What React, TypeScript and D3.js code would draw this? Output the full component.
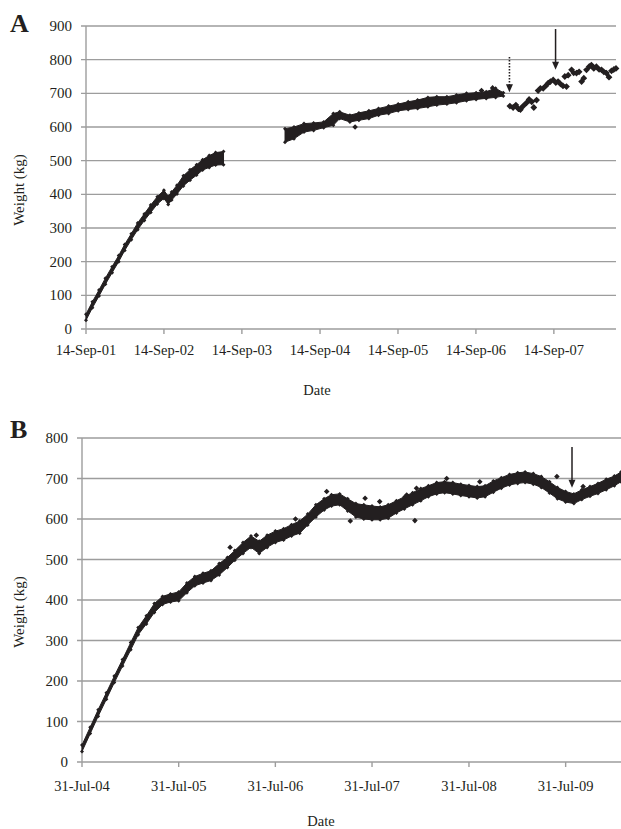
import React from "react";
import * as d3 from "d3";

// ---------- Panel A data ----------
// [date, low, high] envelope of the dense daily weights
const aGrowth: [string, number, number][] = [
  ["2001-09-14", 26, 44], ["2001-10-14", 63, 81], ["2001-11-14", 98, 116],
  ["2001-12-14", 133, 151], ["2002-01-14", 167, 185], ["2002-02-14", 200, 218],
  ["2002-03-14", 233, 251], ["2002-04-14", 265, 283], ["2002-05-14", 295, 315],
  ["2002-06-14", 322, 342], ["2002-07-14", 346, 368], ["2002-08-14", 371, 393],
  ["2002-09-14", 388, 412], ["2002-10-04", 370, 394], ["2002-10-20", 383, 407],
  ["2002-11-14", 401, 427], ["2002-12-14", 425, 455], ["2003-01-14", 442, 473],
  ["2003-02-14", 457, 488], ["2003-03-14", 472, 503], ["2003-04-14", 480, 515],
  ["2003-05-14", 487, 524], ["2003-06-20", 488, 527],
];
const aAdult: [string, number, number][] = [
  ["2004-04-03", 555, 595], ["2004-05-15", 565, 600], ["2004-07-01", 585, 610],
  ["2004-08-15", 590, 612], ["2004-10-01", 598, 615], ["2004-11-15", 605, 640],
  ["2004-12-15", 625, 645], ["2005-02-01", 615, 635], ["2005-03-15", 620, 642],
  ["2005-05-01", 625, 648], ["2005-06-15", 635, 655], ["2005-08-01", 640, 662],
  ["2005-09-15", 648, 668], ["2005-11-01", 652, 675], ["2005-12-15", 655, 680],
  ["2006-02-01", 660, 688], ["2006-03-15", 665, 690], ["2006-05-01", 668, 690],
  ["2006-06-15", 672, 695], ["2006-08-01", 678, 700], ["2006-09-15", 682, 702],
  ["2006-11-01", 685, 705], ["2006-12-15", 688, 715], ["2007-01-20", 692, 702],
];
// sparse weighings after the dotted arrow: [date, weight]
const aSparse: [string, number][] = [
  ["2007-02-20", 662], ["2007-03-07", 658], ["2007-03-20", 665], ["2007-03-31", 655],
  ["2007-04-11", 652], ["2007-04-23", 662], ["2007-05-09", 672], ["2007-05-21", 682],
  ["2007-06-02", 675], ["2007-06-12", 658], ["2007-06-25", 680], ["2007-07-02", 708],
  ["2007-07-13", 715], ["2007-07-26", 715], ["2007-08-07", 722], ["2007-08-18", 730],
  ["2007-08-29", 735], ["2007-09-11", 740], ["2007-09-23", 732], ["2007-10-04", 735],
  ["2007-10-15", 728], ["2007-10-27", 722], ["2007-11-12", 720], ["2007-11-04", 750],
  ["2007-11-20", 754], ["2007-12-06", 770], ["2007-12-16", 761], ["2007-12-29", 760],
  ["2008-01-10", 764], ["2008-01-22", 735], ["2008-02-01", 745], ["2008-02-14", 770],
  ["2008-02-26", 779], ["2008-03-08", 784], ["2008-03-19", 774], ["2008-03-31", 779],
  ["2008-04-13", 771], ["2008-04-24", 770], ["2008-05-05", 764], ["2008-05-17", 760],
  ["2008-05-29", 748], ["2008-06-10", 767], ["2008-06-21", 771], ["2008-07-01", 774],
];
const aOutliers: [string, number][] = [["2005-02-25", 600], ["2006-12-01", 716], ["2006-10-10", 708]];
const aTicks = ["2001-09-14", "2002-09-14", "2003-09-14", "2004-09-14", "2005-09-14", "2006-09-14", "2007-09-14"];
const aYTicks = [0, 100, 200, 300, 400, 500, 600, 700, 800, 900];
// arrows: [date, fromWeight, toWeight, dotted]
const aArrows: [string, number, number, boolean][] = [
  ["2007-02-18", 808, 703, true],
  ["2007-09-22", 891, 770, false],
];

// ---------- Panel B data ----------
const bBand: [string, number, number][] = [
  ["2004-07-31", 26, 42], ["2004-08-31", 70, 86], ["2004-09-30", 113, 129],
  ["2004-10-31", 155, 171], ["2004-11-30", 196, 212], ["2004-12-31", 237, 253],
  ["2005-01-31", 277, 295], ["2005-02-28", 314, 332], ["2005-03-31", 341, 361],
  ["2005-04-30", 369, 391], ["2005-05-31", 389, 409], ["2005-06-30", 395, 415],
  ["2005-07-31", 398, 420], ["2005-08-31", 418, 442], ["2005-09-30", 435, 458],
  ["2005-10-31", 442, 466], ["2005-11-30", 448, 472], ["2005-12-31", 462, 490],
  ["2006-01-31", 480, 505], ["2006-02-28", 498, 522], ["2006-03-31", 515, 542],
  ["2006-04-30", 530, 558], ["2006-05-31", 515, 545], ["2006-06-30", 530, 560],
  ["2006-07-31", 542, 570], ["2006-08-31", 548, 576], ["2006-09-30", 558, 586],
  ["2006-10-31", 565, 595], ["2006-11-30", 585, 612], ["2006-12-31", 605, 635],
  ["2007-01-31", 622, 650], ["2007-02-28", 632, 660], ["2007-03-31", 635, 662],
  ["2007-04-30", 620, 650], ["2007-05-31", 605, 638], ["2007-06-30", 600, 635],
  ["2007-07-31", 598, 632], ["2007-08-31", 598, 630], ["2007-09-30", 602, 635],
  ["2007-10-31", 615, 645], ["2007-11-30", 625, 655], ["2007-12-31", 635, 665],
  ["2008-01-31", 645, 675], ["2008-02-29", 655, 682], ["2008-03-31", 662, 690],
  ["2008-04-30", 665, 692], ["2008-05-31", 662, 690], ["2008-06-30", 658, 686],
  ["2008-07-31", 655, 683], ["2008-08-31", 652, 680], ["2008-09-30", 655, 682],
  ["2008-10-31", 666, 694], ["2008-11-30", 676, 702], ["2008-12-31", 684, 710],
  ["2009-01-31", 688, 714], ["2009-02-28", 690, 716], ["2009-03-31", 686, 712],
  ["2009-04-30", 678, 705], ["2009-05-31", 664, 692], ["2009-06-30", 650, 678],
  ["2009-07-31", 642, 668], ["2009-08-31", 638, 662], ["2009-09-30", 648, 672],
  ["2009-10-31", 656, 680], ["2009-11-30", 663, 688], ["2009-12-31", 672, 698],
  ["2010-01-31", 682, 706], ["2010-02-25", 692, 716],
];
const bOutliers: [string, number][] = [
  ["2007-07-05", 651], ["2007-08-29", 643], ["2007-12-09", 659], ["2008-01-09", 596],
  ["2008-01-15", 676], ["2008-05-08", 700], ["2009-06-28", 705], ["2009-10-05", 680],
  ["2006-05-20", 560], ["2007-02-10", 668], ["2006-10-15", 600], ["2007-05-10", 595],
  ["2008-09-10", 692], ["2006-02-10", 530],
];
const bTicks = ["2004-07-31", "2005-07-31", "2006-07-31", "2007-07-31", "2008-07-31", "2009-07-31"];
const bYTicks = [0, 100, 200, 300, 400, 500, 600, 700, 800];
const bArrows: [string, number, number, boolean][] = [["2009-08-24", 778, 677, false]];

const parse = d3.timeParse("%Y-%m-%d");
const fmt = d3.timeFormat("%d-%b-%y");
const INK = "#231f20";
const GRID = "#9d9d9d";
const FONT = "'Liberation Serif', 'DejaVu Serif', serif";

type PanelProps = {
  letter: string;
  left: number; right: number; top: number; bottom: number;
  domain: [string, string]; yMax: number;
  ticks: string[]; yTicks: number[];
  bands: [string, number, number][][];
  sparse: [string, number][];
  outliers: [string, number][];
  arrows: [string, number, number, boolean][];
  letterY: number; dateX: number; dateY: number; weightY: number; tickY: number;
};

function diamond(x: number, y: number, r: number) {
  return `M${x.toFixed(1)},${(y - r).toFixed(1)}L${(x + r).toFixed(1)},${y.toFixed(1)}L${x.toFixed(1)},${(y + r).toFixed(1)}L${(x - r).toFixed(1)},${y.toFixed(1)}Z`;
}

function Panel(p: PanelProps) {
  const x = d3.scaleTime().domain([parse(p.domain[0])!, parse(p.domain[1])!]).range([p.left, p.right]);
  const y = d3.scaleLinear().domain([0, p.yMax]).range([p.bottom, p.top]);
  const area = d3.area<[string, number, number]>()
    .x((d) => x(parse(d[0])!))
    .y0((d) => y(d[1]))
    .y1((d) => y(d[2]));
  const edgeMarks = p.bands
    .flat()
    .map((d) => diamond(x(parse(d[0])!), y(d[1]), 2) + diamond(x(parse(d[0])!), y(d[2]), 2))
    .join("");
  const sparseMarks = p.sparse.map((d) => diamond(x(parse(d[0])!), y(d[1]), 3.4)).join("");
  const outMarks = p.outliers.map((d) => diamond(x(parse(d[0])!), y(d[1]), 2.8)).join("");
  const txt = { fontFamily: FONT, fill: INK } as const;
  return (
    <g>
      <text x={10} y={p.letterY} style={{ ...txt, fontWeight: "bold", fontSize: 26 }}>{p.letter}</text>
      {p.yTicks.map((t) => (
        <g key={t}>
          <line x1={p.left - 5} x2={p.right} y1={y(t)} y2={y(t)} stroke={GRID} strokeWidth={1.4} />
          <text x={p.left - 14} y={y(t) + 5} textAnchor="end" style={{ ...txt, fontSize: 15 }}>{t}</text>
        </g>
      ))}
      <line x1={p.left} x2={p.left} y1={p.top} y2={p.bottom} stroke={GRID} strokeWidth={1.4} />
      {p.ticks.map((t) => (
        <g key={t}>
          <line x1={x(parse(t)!)} x2={x(parse(t)!)} y1={p.bottom} y2={p.bottom + 5} stroke={GRID} strokeWidth={1.4} />
          <text x={x(parse(t)!)} y={p.tickY} textAnchor="middle" style={{ ...txt, fontSize: 14.5 }}>{fmt(parse(t)!)}</text>
        </g>
      ))}
      {p.bands.map((b, i) => (
        <path key={i} d={area(b) || ""} fill={INK} stroke={INK} strokeWidth={1} strokeLinejoin="round" />
      ))}
      <path d={edgeMarks} fill={INK} />
      <path d={sparseMarks} fill={INK} />
      <path d={outMarks} fill={INK} />
      {p.arrows.map((a, i) => {
        const ax = x(parse(a[0])!);
        const y1 = y(a[1]);
        const y2 = y(a[2]);
        return (
          <g key={i}>
            <line x1={ax} x2={ax} y1={y1} y2={y2 - 7} stroke={INK} strokeWidth={a[3] ? 1.6 : 1.5} strokeDasharray={a[3] ? "1.6,1.4" : undefined} />
            <path d={`M${ax - 3.5},${y2 - 8}L${ax + 3.5},${y2 - 8}L${ax},${y2}Z`} fill={INK} />
          </g>
        );
      })}
      <text x={p.dateX} y={p.dateY} textAnchor="middle" style={{ ...txt, fontSize: 14.5 }}>Date</text>
      <text transform={`translate(24,${p.weightY}) rotate(-90)`} textAnchor="middle" style={{ ...txt, fontSize: 15 }}>Weight (kg)</text>
    </g>
  );
}

export default function App() {
  return (
    <div style={{ position: "absolute", left: 0, top: 0, width: 621, height: 829, background: "#fff" }}>
      <svg width={621} height={829} viewBox="0 0 621 829" style={{ display: "block" }}>
        <rect width={621} height={829} fill="#fff" />
        <Panel
          letter="A" left={86} right={616} top={26} bottom={329}
          domain={["2001-09-14", "2008-07-01"]} yMax={900}
          ticks={aTicks} yTicks={aYTicks}
          bands={[aGrowth, aAdult]} sparse={aSparse} outliers={aOutliers} arrows={aArrows}
          letterY={32} dateX={317} dateY={395} weightY={190} tickY={355}
        />
        <Panel
          letter="B" left={82} right={621} top={438} bottom={762}
          domain={["2004-07-31", "2010-02-25"]} yMax={800}
          ticks={bTicks} yTicks={bYTicks}
          bands={[bBand]} sparse={[]} outliers={bOutliers} arrows={bArrows}
          letterY={438} dateX={321} dateY={826} weightY={612} tickY={791}
        />
      </svg>
    </div>
  );
}
